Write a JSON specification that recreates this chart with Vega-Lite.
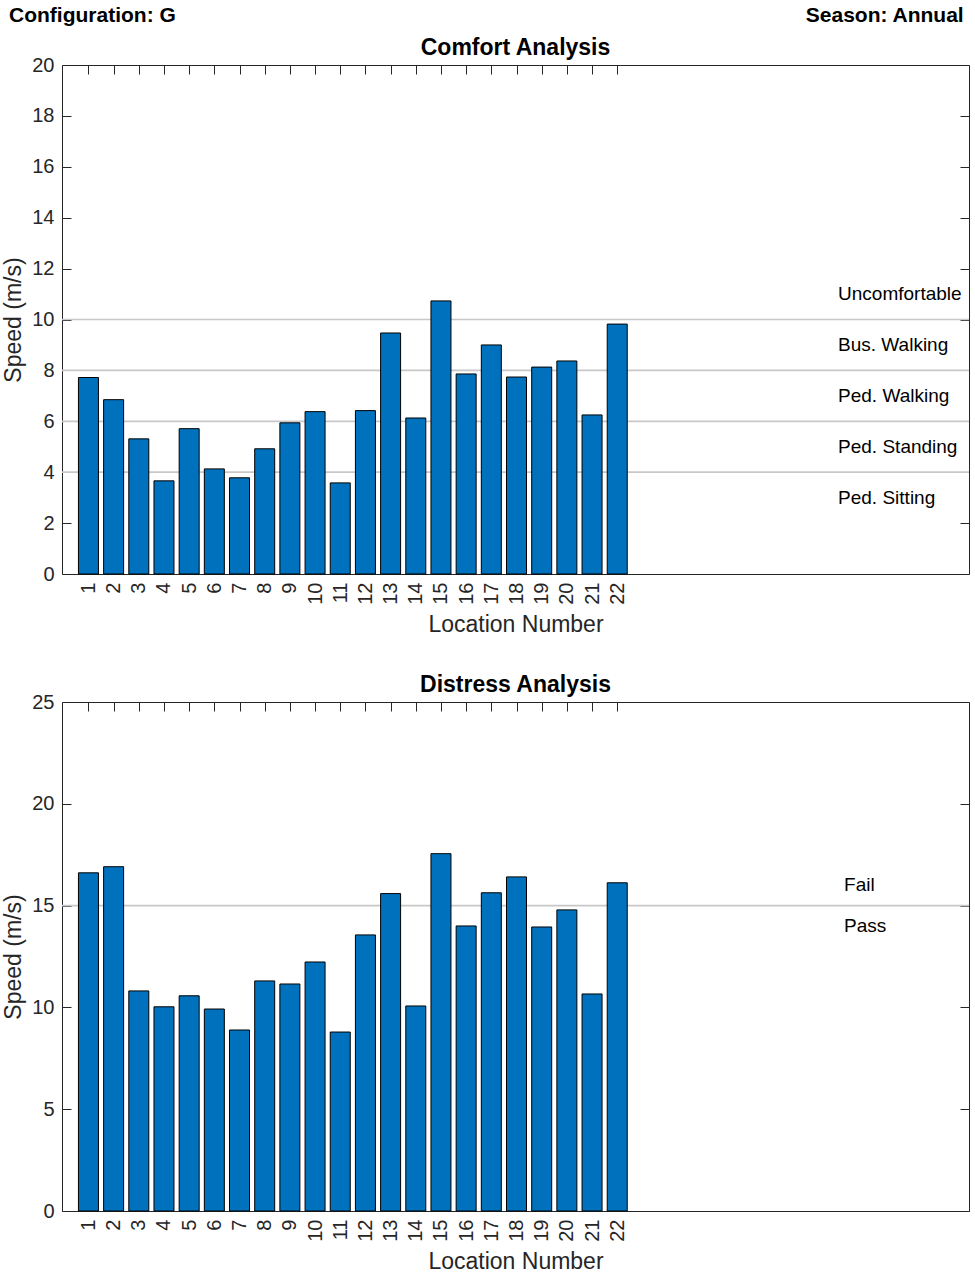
{
  "$schema": "https://vega.github.io/schema/vega-lite/v6.json",
  "background": "white",
  "padding": {"left": 2, "top": 5, "right": 4, "bottom": 5},
  "config": {
    "font": "Liberation Sans",
    "view": {"stroke": "#262626", "strokeWidth": 1},
    "axis": {
      "labelFont": "Liberation Sans", "labelFontSize": 20, "labelColor": "#262626",
      "titleFont": "Liberation Sans", "titleFontSize": 23, "titleFontWeight": "normal", "titleColor": "#262626",
      "tickColor": "#262626", "tickWidth": 1, "tickSize": -9, "labelPadding": 17,
      "domain": false, "grid": false, "titlePadding": 9
    },
    "axisY": {"titlePadding": 6},
    "title": {"font": "Liberation Sans", "fontSize": 23, "fontWeight": "bold", "color": "black", "offset": -5}
  },
  "datasets": {
    "comfort": [
      {"location": 1, "speed": 7.72}, {"location": 2, "speed": 6.85}, {"location": 3, "speed": 5.31},
      {"location": 4, "speed": 3.66}, {"location": 5, "speed": 5.71}, {"location": 6, "speed": 4.13},
      {"location": 7, "speed": 3.78}, {"location": 8, "speed": 4.92}, {"location": 9, "speed": 5.94},
      {"location": 10, "speed": 6.38}, {"location": 11, "speed": 3.58}, {"location": 12, "speed": 6.42},
      {"location": 13, "speed": 9.47}, {"location": 14, "speed": 6.13}, {"location": 15, "speed": 10.73},
      {"location": 16, "speed": 7.86}, {"location": 17, "speed": 9.0}, {"location": 18, "speed": 7.74},
      {"location": 19, "speed": 8.13}, {"location": 20, "speed": 8.37}, {"location": 21, "speed": 6.25},
      {"location": 22, "speed": 9.82}
    ],
    "distress": [
      {"location": 1, "speed": 16.61}, {"location": 2, "speed": 16.91}, {"location": 3, "speed": 10.81},
      {"location": 4, "speed": 10.03}, {"location": 5, "speed": 10.57}, {"location": 6, "speed": 9.92},
      {"location": 7, "speed": 8.89}, {"location": 8, "speed": 11.3}, {"location": 9, "speed": 11.15},
      {"location": 10, "speed": 12.23}, {"location": 11, "speed": 8.79}, {"location": 12, "speed": 13.56},
      {"location": 13, "speed": 15.59}, {"location": 14, "speed": 10.07}, {"location": 15, "speed": 17.55},
      {"location": 16, "speed": 14.0}, {"location": 17, "speed": 15.63}, {"location": 18, "speed": 16.41},
      {"location": 19, "speed": 13.95}, {"location": 20, "speed": 14.79}, {"location": 21, "speed": 10.66},
      {"location": 22, "speed": 16.12}
    ],
    "comfortThresholds": [{"speed": 4}, {"speed": 6}, {"speed": 8}, {"speed": 10}],
    "comfortZones": [
      {"zone": "Ped. Sitting", "speed": 3}, {"zone": "Ped. Standing", "speed": 5},
      {"zone": "Ped. Walking", "speed": 7}, {"zone": "Bus. Walking", "speed": 9},
      {"zone": "Uncomfortable", "speed": 11}
    ],
    "distressThresholds": [{"speed": 15}],
    "distressZones": [{"zone": "Pass", "speed": 14}, {"zone": "Fail", "speed": 16}]
  },
  "spacing": 10,
  "vconcat": [
    {
      "width": 907, "height": 20,
      "view": {"stroke": null},
      "data": {"values": [{"configuration": "Configuration: G", "season": "Season: Annual"}]},
      "layer": [
        {
          "mark": {"type": "text", "align": "left", "baseline": "middle", "fontSize": 21, "fontWeight": "bold", "color": "black"},
          "encoding": {
            "x": {"datum": -2.155, "type": "quantitative", "scale": {"domain": [-0.05, 35.97], "nice": false, "zero": false, "padding": 0}, "axis": null},
            "text": {"field": "configuration"}
          }
        },
        {
          "mark": {"type": "text", "align": "right", "baseline": "middle", "fontSize": 21, "fontWeight": "bold", "color": "black"},
          "encoding": {
            "x": {"datum": 35.76, "type": "quantitative", "scale": {"domain": [-0.05, 35.97], "nice": false, "zero": false, "padding": 0}, "axis": null},
            "text": {"field": "season"}
          }
        }
      ]
    },
    {
      "spacing": 36,
      "vconcat": [
        {
          "width": 907, "height": 509,
          "title": "Comfort Analysis",
          "layer": [
            {
              "data": {"name": "comfortThresholds"},
              "mark": {"type": "rule", "color": "#c8c8c8", "strokeWidth": 1.7},
              "encoding": {
                "y": {"field": "speed", "type": "quantitative", "scale": {"domain": [0, 20], "nice": false}, "axis": null}
              }
            },
            {
              "data": {"name": "comfort"},
              "mark": {"type": "bar", "size": 20, "color": "#0072BD", "stroke": "black", "strokeWidth": 1},
              "encoding": {
                "x": {"field": "location", "type": "quantitative", "scale": {"domain": [-0.05, 35.97], "nice": false, "zero": false, "padding": 0},
                      "axis": {"orient": "bottom", "title": "Location Number", "values": [1,2,3,4,5,6,7,8,9,10,11,12,13,14,15,16,17,18,19,20,21,22], "labelAngle": -90, "labelAlign": "right", "labelBaseline": "middle"}},
                "y": {"field": "speed", "type": "quantitative", "scale": {"domain": [0, 20], "nice": false},
                      "axis": {"orient": "left", "title": "Speed (m/s)", "values": [0,2,4,6,8,10,12,14,16,18,20]}}
              }
            },
            {
              "data": {"name": "comfortZones"},
              "mark": {"type": "text", "align": "left", "baseline": "middle", "fontSize": 19, "color": "black"},
              "encoding": {
                "x": {"datum": 30.77, "type": "quantitative", "scale": {"domain": [-0.05, 35.97], "nice": false, "zero": false, "padding": 0}, "axis": null},
                "y": {"field": "speed", "type": "quantitative", "scale": {"domain": [0, 20], "nice": false}, "axis": null},
                "text": {"field": "zone"}
              }
            },
            {
              "data": {"name": "comfort"},
              "mark": {"type": "point", "opacity": 0},
              "encoding": {
                "x": {"field": "location", "type": "quantitative", "scale": {"domain": [-0.05, 35.97], "nice": false, "zero": false, "padding": 0},
                      "axis": {"orient": "top", "title": null, "labels": false, "values": [1,2,3,4,5,6,7,8,9,10,11,12,13,14,15,16,17,18,19,20,21,22]}},
                "y": {"field": "speed", "type": "quantitative", "scale": {"domain": [0, 20], "nice": false},
                      "axis": {"orient": "right", "title": null, "labels": false, "values": [0,2,4,6,8,10,12,14,16,18,20]}}
              }
            }
          ],
          "resolve": {"axis": {"x": "independent", "y": "independent"}}
        },
        {
          "width": 907, "height": 509,
          "title": "Distress Analysis",
          "layer": [
            {
              "data": {"name": "distressThresholds"},
              "mark": {"type": "rule", "color": "#c8c8c8", "strokeWidth": 1.7},
              "encoding": {
                "y": {"field": "speed", "type": "quantitative", "scale": {"domain": [0, 25], "nice": false}, "axis": null}
              }
            },
            {
              "data": {"name": "distress"},
              "mark": {"type": "bar", "size": 20, "color": "#0072BD", "stroke": "black", "strokeWidth": 1},
              "encoding": {
                "x": {"field": "location", "type": "quantitative", "scale": {"domain": [-0.05, 35.97], "nice": false, "zero": false, "padding": 0},
                      "axis": {"orient": "bottom", "title": "Location Number", "values": [1,2,3,4,5,6,7,8,9,10,11,12,13,14,15,16,17,18,19,20,21,22], "labelAngle": -90, "labelAlign": "right", "labelBaseline": "middle"}},
                "y": {"field": "speed", "type": "quantitative", "scale": {"domain": [0, 25], "nice": false},
                      "axis": {"orient": "left", "title": "Speed (m/s)", "values": [0,5,10,15,20,25]}}
              }
            },
            {
              "data": {"name": "distressZones"},
              "mark": {"type": "text", "align": "left", "baseline": "middle", "fontSize": 19, "color": "black"},
              "encoding": {
                "x": {"datum": 31.01, "type": "quantitative", "scale": {"domain": [-0.05, 35.97], "nice": false, "zero": false, "padding": 0}, "axis": null},
                "y": {"field": "speed", "type": "quantitative", "scale": {"domain": [0, 25], "nice": false}, "axis": null},
                "text": {"field": "zone"}
              }
            },
            {
              "data": {"name": "distress"},
              "mark": {"type": "point", "opacity": 0},
              "encoding": {
                "x": {"field": "location", "type": "quantitative", "scale": {"domain": [-0.05, 35.97], "nice": false, "zero": false, "padding": 0},
                      "axis": {"orient": "top", "title": null, "labels": false, "values": [1,2,3,4,5,6,7,8,9,10,11,12,13,14,15,16,17,18,19,20,21,22]}},
                "y": {"field": "speed", "type": "quantitative", "scale": {"domain": [0, 25], "nice": false},
                      "axis": {"orient": "right", "title": null, "labels": false, "values": [0,5,10,15,20,25]}}
              }
            }
          ],
          "resolve": {"axis": {"x": "independent", "y": "independent"}}
        }
      ]
    }
  ]
}
